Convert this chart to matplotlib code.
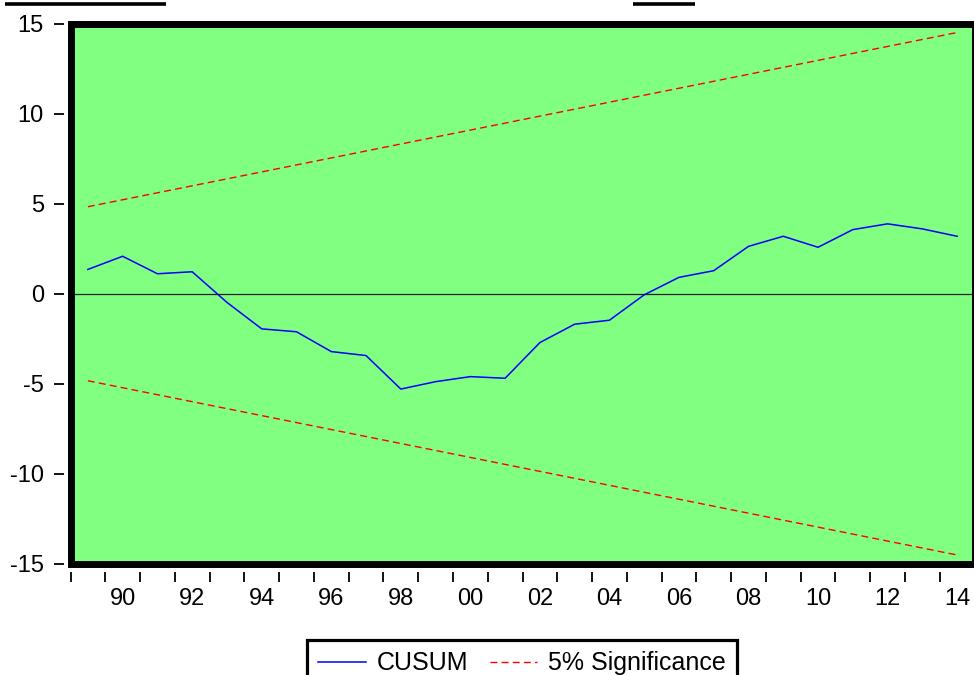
import matplotlib
matplotlib.use("Agg")
import matplotlib.pyplot as plt
from matplotlib.lines import Line2D
from matplotlib.patches import Rectangle

plt.rcParams['font.family'] = ['Liberation Sans', 'DejaVu Sans']

# CUSUM statistic, one value per year (1989-2014)
years = list(range(1989, 2015))
cusum = [1.35, 2.08, 1.11, 1.22, -0.48, -1.95, -2.11, -3.21, -3.43, -5.29,
         -4.88, -4.60, -4.69, -2.71, -1.69, -1.47, -0.06, 0.91, 1.28, 2.63,
         3.19, 2.58, 3.56, 3.88, 3.60, 3.19]

# 5% significance bounds (straight lines, first and last year)
bound_years = [1989, 2014]
upper = [4.83, 14.50]
lower = [-4.83, -14.50]

tick_labels = ["90", "92", "94", "96", "98", "00", "02", "04", "06", "08", "10", "12", "14"]
label_years = [1990, 1992, 1994, 1996, 1998, 2000, 2002, 2004, 2006, 2008, 2010, 2012, 2014]

W, H = 974, 675
fig = plt.figure(figsize=(W / 100, H / 100), dpi=100)
ax = fig.add_axes([70.5 / W, 1 - 564 / H, (974.5 - 70.5) / W, (564 - 23.5) / H])
ax.set_facecolor('#80FF80')

# annual observations plotted at mid-year
xs = [y + 0.5 for y in years]
bx = [y + 0.5 for y in bound_years]

ax.axhline(0, color='#202020', lw=0.9, zorder=1)
ax.plot(xs, cusum, color='#0000FF', lw=1.1, label='CUSUM', zorder=3)
ax.plot(bx, upper, color='#FF0000', lw=1.0, dashes=(5, 3), label='5% Significance', zorder=2)
ax.plot(bx, lower, color='#FF0000', lw=1.0, dashes=(5, 3), zorder=2)

ax.set_xlim(1989, 2015)
ax.set_ylim(-15, 15)

# frame drawn as a thick rectangle; ticks offset from it like EViews
for s in ax.spines.values():
    s.set_visible(False)
ax.spines['left'].set_position(('outward', 5))
ax.spines['bottom'].set_position(('outward', 5.5))
ax.add_patch(Rectangle((0, 0), 1, 1, transform=ax.transAxes, fill=False,
                       edgecolor='black', lw=5.0, clip_on=False, zorder=5))

ax.set_yticks([-15, -10, -5, 0, 5, 10, 15])
ax.set_yticklabels(['-15', '-10', '-5', '0', '5', '10', '15'])
ax.tick_params(axis='y', direction='out', length=7.2, width=1.3, pad=7, labelsize=17)

ax.set_xticks(range(1989, 2016))
ax.set_xticklabels([])
ax.tick_params(axis='x', which='major', direction='out', length=7.2, width=1.3)
ax.set_xticks([y + 0.5 for y in label_years], minor=True)
ax.set_xticklabels(tick_labels, minor=True)
ax.tick_params(axis='x', which='minor', length=0, pad=12, labelsize=17)

leg = fig.legend(loc='upper center', bbox_to_anchor=(522 / W, 1 - 640 / H), ncol=2,
                 fontsize=18, frameon=True, fancybox=False, framealpha=1,
                 handlelength=1.9, handletextpad=0.45, columnspacing=0.85,
                 borderpad=0.45, borderaxespad=0)
leg.get_frame().set_edgecolor('black')
leg.get_frame().set_linewidth(2.3)

# leftover border pieces at the top of the image
for x0, x1 in [(5, 166), (633, 695)]:
    fig.add_artist(Line2D([x0 / W, x1 / W], [1 - 4.3 / H, 1 - 4.3 / H], color='black',
                          lw=2.6, solid_capstyle='butt', transform=fig.transFigure))

fig.savefig('out.png', dpi=100)
